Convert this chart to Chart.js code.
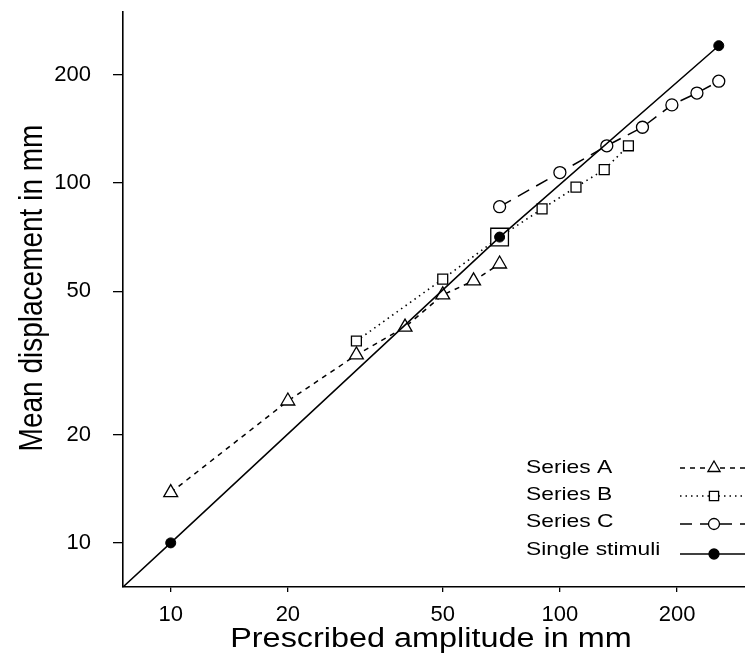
<!DOCTYPE html>
<html>
<head>
<meta charset="utf-8">
<script src="https://cdn.jsdelivr.net/npm/chart.js@4.4.1/dist/chart.umd.min.js"></script>
<style>
  html, body { margin: 0; padding: 0; background: #fff; }
  #wrap { width: 745px; height: 653px; }
</style>
</head>
<body>
<div id="wrap"><canvas id="chart" width="745" height="653"></canvas></div>
<script>
// ─── DATA ─────────────────────────────────────────────────────────────────
const TICK_VALUES = [10, 20, 50, 100, 200];

const seriesA_x = [10, 20, 30, 40, 50, 60, 70];
const seriesA_y = [13.8, 24.8, 33.3, 39.8, 48.9, 53.5, 59.6];

const seriesB_x = [30, 50, 70, 90, 110, 130, 150];
const seriesB_y = [36.4, 54.1, 70.8, 84.8, 97.5, 109, 127];

const seriesC_x = [70, 100, 132, 163, 194, 225, 256];
const seriesC_y = [86, 107, 127, 143, 165, 178, 192];

// first entry only carries the solid line down to the corner
const single_x = [7.5, 10, 70, 256];
const single_y = [7.5, 10, 70.8, 241];

const LEGEND_LABELS = ['Series A', 'Series B', 'Series C', 'Single stimuli'];

const FONT = "'Liberation Sans', Arial, Helvetica, sans-serif";
const STRETCH = 1.2; // the original scan is wider than tall

function pts(xs, ys) { return xs.map((x, i) => ({ x: x, y: ys[i] })); }

// ─── MARKERS (for the hand-drawn legend) ─────────────────────────────────
function drawMarker(ctx, style, x, y, r, filled) {
  ctx.save();
  ctx.setLineDash([]);
  ctx.lineWidth = 1.3;
  ctx.strokeStyle = '#000';
  ctx.fillStyle = filled ? '#000' : '#fff';
  ctx.beginPath();
  if (style === 'triangle') {
    ctx.moveTo(x, y - r);
    ctx.lineTo(x + r * Math.sin(2 * Math.PI / 3), y + r / 2);
    ctx.lineTo(x - r * Math.sin(2 * Math.PI / 3), y + r / 2);
    ctx.closePath();
  } else if (style === 'rect') {
    const s = r * Math.SQRT1_2;
    ctx.rect(x - s, y - s, 2 * s, 2 * s);
  } else {
    ctx.arc(x, y, r, 0, Math.PI * 2);
  }
  ctx.fill();
  ctx.stroke();
  ctx.restore();
}

// ─── PLUGINS ─────────────────────────────────────────────────────────────
const titlesPlugin = {
  id: 'titles',
  afterDraw(chart) {
    const ctx = chart.ctx;
    ctx.save();
    ctx.fillStyle = '#000';
    ctx.font = '27px ' + FONT;
    ctx.textAlign = 'center';
    ctx.textBaseline = 'alphabetic';
    ctx.save();
    ctx.translate(431, 647);
    ctx.scale(STRETCH, 1);
    ctx.fillText('Prescribed amplitude in mm', 0, 0);
    ctx.restore();

    ctx.save();
    ctx.font = '28px ' + FONT;
    ctx.translate(42, 288);
    ctx.scale(STRETCH, 1);
    ctx.rotate(-Math.PI / 2);
    ctx.fillText('Mean displacement in mm', 0, 0);
    ctx.restore();
    ctx.restore();
  }
};

const legendPlugin = {
  id: 'customLegend',
  afterDraw(chart) {
    const ctx = chart.ctx;
    const styles = [
      { dash: [5, 5],   marker: 'triangle', r: 7,   filled: false },
      { dash: [1.5, 4], marker: 'rect',     r: 6.5, filled: false },
      { dash: [12, 8],  marker: 'circle',   r: 5.5, filled: false },
      { dash: [],       marker: 'circle',   r: 5,   filled: true }
    ];
    const textY = [467, 494, 521, 549];
    const lineY = [468, 496, 524, 554];
    ctx.save();
    LEGEND_LABELS.forEach((label, i) => {
      ctx.save();
      ctx.font = '19px ' + FONT;
      ctx.fillStyle = '#000';
      ctx.textBaseline = 'middle';
      ctx.textAlign = 'left';
      ctx.translate(526, textY[i]);
      ctx.scale(STRETCH, 1);
      ctx.fillText(label, 0, 1);
      ctx.restore();

      ctx.save();
      ctx.strokeStyle = '#000';
      ctx.lineWidth = 1.5;
      ctx.setLineDash(styles[i].dash);
      ctx.beginPath();
      ctx.moveTo(680, lineY[i]);
      ctx.lineTo(745, lineY[i]);
      ctx.stroke();
      ctx.restore();
      drawMarker(ctx, styles[i].marker, 714, lineY[i], styles[i].r, styles[i].filled);
    });
    ctx.restore();
  }
};

// ─── CHART ───────────────────────────────────────────────────────────────
const tickFont = { family: FONT, size: 22 };

// scales fill the canvas edge to edge; drop the automatic label padding
function noPad(s) {
  s.paddingLeft = 0; s.paddingRight = 0; s.paddingTop = 0; s.paddingBottom = 0;
}

function logAxis(extra) {
  return Object.assign({
    type: 'logarithmic',
    min: 7.54,
    max: 299,
    afterBuildTicks: s => { s.ticks = TICK_VALUES.map(v => ({ value: v })); },
    border: { display: true, color: '#000', width: 1.6 },
    title: { display: false }
  }, extra);
}

new Chart(document.getElementById('chart'), {
  type: 'scatter',
  data: {
    datasets: [
      {
        label: 'Single stimuli',
        data: pts(single_x, single_y),
        showLine: true,
        borderColor: '#000',
        borderWidth: 1.5,
        pointStyle: 'circle',
        pointRadius: [0, 5, 5, 5],
        pointBackgroundColor: '#000',
        pointBorderColor: '#000',
        pointBorderWidth: 1
      },
      {
        label: 'Series A',
        data: pts(seriesA_x, seriesA_y),
        showLine: true,
        borderColor: '#000',
        borderWidth: 1.5,
        borderDash: [5, 5],
        pointStyle: 'triangle',
        pointRadius: 8,
        pointBackgroundColor: '#fff',
        pointBorderColor: '#000',
        pointBorderWidth: 1.3
      },
      {
        label: 'Series B',
        data: pts(seriesB_x, seriesB_y),
        showLine: true,
        borderColor: '#000',
        borderWidth: 1.6,
        borderDash: [1.5, 4],
        pointStyle: 'rect',
        pointRadius: [7, 7, 12.5, 7, 7, 7, 7],
        pointBackgroundColor: '#fff',
        pointBorderColor: '#000',
        pointBorderWidth: 1.3
      },
      {
        label: 'Series C',
        data: pts(seriesC_x, seriesC_y),
        showLine: true,
        borderColor: '#000',
        borderWidth: 1.5,
        borderDash: [13, 8],
        pointStyle: 'circle',
        pointRadius: 6,
        pointBackgroundColor: '#fff',
        pointBorderColor: '#000',
        pointBorderWidth: 1.3
      }
    ]
  },
  options: {
    responsive: false,
    animation: false,
    devicePixelRatio: 1,
    layout: { autoPadding: false, padding: { top: 12, right: 0, left: 0, bottom: 0 } },
    elements: { line: { tension: 0 } },
    plugins: { legend: { display: false }, tooltip: { enabled: false } },
    scales: {
      x: logAxis({
        position: 'bottom',
        afterFit: s => { s.height = 66; noPad(s); },
        ticks: { color: '#000', font: tickFont, autoSkip: false, maxRotation: 0, padding: 10, callback: v => String(v) },
        grid: { display: true, drawOnChartArea: false, drawTicks: true, tickLength: 5, color: '#000', lineWidth: 1.3 }
      }),
      y: logAxis({
        position: 'left',
        afterFit: s => { s.width = 123; noPad(s); },
        ticks: { color: '#000', font: tickFont, autoSkip: false, padding: 22, callback: v => String(v) },
        grid: { display: true, drawOnChartArea: false, drawTicks: true, tickLength: 10, color: '#000', lineWidth: 1.3 }
      })
    }
  },
  plugins: [titlesPlugin, legendPlugin]
});
</script>
</body>
</html>
